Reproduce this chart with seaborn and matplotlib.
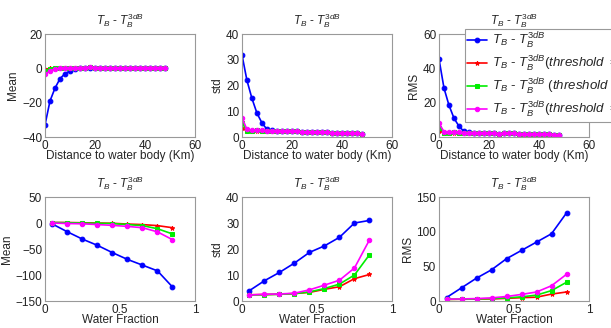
import numpy as np
import pandas as pd
import matplotlib
matplotlib.use("Agg")
import matplotlib.pyplot as plt
import seaborn as sns

# ---------------- data ----------------
dist = [0, 2, 4, 6, 8, 10, 12, 14, 16, 18, 20, 22, 24, 26, 28, 30, 32, 34, 36, 38, 40, 42, 44, 46, 48]
frac = [0.05, 0.15, 0.25, 0.35, 0.45, 0.55, 0.65, 0.75, 0.85]

series_names = ["all", "t099", "t095", "t08"]
labels = [r"$T_B$ - $T_B^{3dB}$",
          r"$T_B$ - $T_B^{3dB}$$(threshold\ =\ 0.99)$",
          r"$T_B$ - $T_B^{3dB}$ $(threshold\ =\ 0.95)$",
          r"$T_B$ - $T_B^{3dB}$$(threshold\ =\ 0.8)$"]

# distance panels
mean_d_all = [-33, -19, -11.5, -6, -3, -1.5, -0.5, 0, 0.3, 0.5, 0.5, 0.5, 0.4, 0.3, 0.3, 0.3, 0.4, 0.4, 0.5, 0.5, 0.5, 0.5, 0.5, 0.5, 0.5]
mean_d_099 = [-0.5, 0, 0.2, 0.3, 0.4, 0.4, 0.5, 0.5, 0.5, 0.6, 0.5, 0.5, 0.4, 0.3, 0.3, 0.3, 0.4, 0.4, 0.5, 0.5, 0.5, 0.5, 0.5, 0.5, 0.5]
mean_d_095 = [-1.5, -0.5, 0, 0.3, 0.4, 0.4, 0.5, 0.5, 0.5, 0.6, 0.5, 0.5, 0.4, 0.3, 0.3, 0.3, 0.4, 0.4, 0.5, 0.5, 0.5, 0.5, 0.5, 0.5, 0.5]
mean_d_08 = [-3.5, -1.5, -0.5, 0, 0.2, 0.3, 0.4, 0.5, 0.5, 0.6, 0.5, 0.5, 0.4, 0.3, 0.3, 0.3, 0.4, 0.4, 0.5, 0.5, 0.5, 0.5, 0.5, 0.5, 0.5]

std_d_all = [32, 22, 15, 9.3, 5.5, 3, 2.6, 2.5, 2.4, 2.4, 2.3, 2.3, 1.9, 2.0, 2.0, 2.0, 1.8, 1.8, 1.7, 1.6, 1.5, 1.5, 1.5, 1.4, 1.2]
std_d_099 = [3.5, 2.4, 2.4, 2.5, 2.5, 2.5, 2.5, 2.5, 2.4, 2.4, 2.3, 2.3, 1.9, 2.0, 2.0, 2.0, 1.8, 1.8, 1.7, 1.6, 1.5, 1.5, 1.5, 1.4, 1.2]
std_d_095 = [5.5, 2.5, 2.5, 2.6, 2.5, 2.5, 2.5, 2.5, 2.4, 2.4, 2.3, 2.3, 1.9, 2.0, 2.0, 2.0, 1.8, 1.8, 1.7, 1.6, 1.5, 1.5, 1.5, 1.4, 1.2]
std_d_08 = [7.5, 3.0, 2.7, 2.7, 2.6, 2.5, 2.5, 2.5, 2.4, 2.4, 2.3, 2.3, 1.9, 2.0, 2.0, 2.0, 1.8, 1.8, 1.7, 1.6, 1.5, 1.5, 1.5, 1.4, 1.2]

rms_d_all = [45.5, 28.5, 18.5, 11, 6.3, 3.3, 2.7, 2.6, 2.5, 2.5, 2.4, 2.4, 2.0, 2.1, 2.1, 2.1, 1.9, 1.9, 1.8, 1.7, 1.6, 1.6, 1.6, 1.5, 1.3]
rms_d_099 = [3.5, 2.5, 2.5, 2.6, 2.6, 2.6, 2.6, 2.6, 2.5, 2.5, 2.4, 2.4, 2.0, 2.1, 2.1, 2.1, 1.9, 1.9, 1.8, 1.7, 1.6, 1.6, 1.6, 1.5, 1.3]
rms_d_095 = [5.5, 2.6, 2.6, 2.7, 2.6, 2.6, 2.6, 2.6, 2.5, 2.5, 2.4, 2.4, 2.0, 2.1, 2.1, 2.1, 1.9, 1.9, 1.8, 1.7, 1.6, 1.6, 1.6, 1.5, 1.3]
rms_d_08 = [8, 3.2, 2.8, 2.8, 2.7, 2.6, 2.6, 2.6, 2.5, 2.5, 2.4, 2.4, 2.0, 2.1, 2.1, 2.1, 1.9, 1.9, 1.8, 1.7, 1.6, 1.6, 1.6, 1.5, 1.3]

# water fraction panels
mean_f_all = [-2, -17, -31, -43, -57, -70, -81, -92, -123]
mean_f_099 = [1, 1, 0.5, 0, -0.5, -2, -3, -5, -9]
mean_f_095 = [1, 0.5, 0, -0.5, -1, -3, -5, -11, -21]
mean_f_08 = [0, -1, -1.5, -3, -4.5, -6.5, -9, -17, -32]

std_f_all = [4, 7.8, 11, 14.6, 18.7, 21.2, 24.5, 30, 31]
std_f_099 = [2.4, 2.5, 2.6, 2.9, 3.3, 4.5, 5.5, 8.6, 10.2]
std_f_095 = [2.3, 2.4, 2.6, 2.8, 3.5, 4.8, 6.5, 10, 17.8]
std_f_08 = [2.3, 2.6, 2.7, 3.0, 4.3, 6.1, 8, 12.7, 23.5]

rms_f_all = [5, 19, 33, 45, 61, 73, 85, 97, 127]
rms_f_099 = [2.3, 2.5, 2.8, 3, 3.8, 4.8, 5.5, 10, 13]
rms_f_095 = [2.3, 2.7, 3, 3.5, 4.5, 6, 8.5, 15, 27]
rms_f_08 = [2.5, 3, 3.5, 4.5, 6.5, 9.5, 13, 22, 38.5]

# ---------------- style ----------------
sns.set_theme(style="white")
plt.rcParams['font.family'] = ['Liberation Sans', 'DejaVu Sans']
plt.rcParams['mathtext.fontset'] = 'custom'
plt.rcParams['mathtext.rm'] = 'Liberation Sans'
plt.rcParams['mathtext.it'] = 'Liberation Sans:italic'
plt.rcParams['mathtext.bf'] = 'Liberation Sans:bold'

colors = ["#0000ff", "#ff0000", "#00ee00", "#ff00ff"]
markers = ["o", "*", "s", "o"]
msizes = [3.4, 3.2, 2.8, 3.2]

fig = plt.figure(figsize=(6.11, 3.28), dpi=100)

lefts = [0.0736, 0.396, 0.7185]
w = 0.2455
top_b, top_h = 0.582, 0.314
bot_b, bot_h = 0.0823, 0.317

panels = [
    (0, 0, dist, [mean_d_all, mean_d_099, mean_d_095, mean_d_08], "Mean", "Distance to water body (Km)", (0, 60), [0, 20, 40, 60], (-40, 20), [-40, -20, 0, 20]),
    (1, 0, dist, [std_d_all, std_d_099, std_d_095, std_d_08], "std", "Distance to water body (Km)", (0, 60), [0, 20, 40, 60], (0, 40), [0, 10, 20, 30, 40]),
    (2, 0, dist, [rms_d_all, rms_d_099, rms_d_095, rms_d_08], "RMS", "Distance to water body (Km)", (0, 60), [0, 20, 40, 60], (0, 60), [0, 20, 40, 60]),
    (0, 1, frac, [mean_f_all, mean_f_099, mean_f_095, mean_f_08], "Mean", "Water Fraction", (0, 1), [0, 0.5, 1], (-150, 50), [-150, -100, -50, 0, 50]),
    (1, 1, frac, [std_f_all, std_f_099, std_f_095, std_f_08], "std", "Water Fraction", (0, 1), [0, 0.5, 1], (0, 40), [0, 10, 20, 30, 40]),
    (2, 1, frac, [rms_f_all, rms_f_099, rms_f_095, rms_f_08], "RMS", "Water Fraction", (0, 1), [0, 0.5, 1], (0, 150), [0, 50, 100, 150]),
]

handles = None
for col, row, xs, ys, ylab, xlab, xlim, xt, ylim, yt in panels:
    b, h = (top_b, top_h) if row == 0 else (bot_b, bot_h)
    ax = fig.add_axes([lefts[col], b, w, h])
    frames = []
    for name, yv in zip(series_names, ys):
        frames.append(pd.DataFrame({"x": xs, "y": yv, "s": name}))
    df = pd.concat(frames, ignore_index=True)
    for i, name in enumerate(series_names):
        sub = df[df["s"] == name]
        sns.lineplot(data=sub, x="x", y="y", ax=ax, color=colors[i], marker=markers[i],
                     markersize=msizes[i], markeredgecolor=colors[i], linewidth=1.2,
                     label=labels[i], legend=False)
    ax.set_xlim(*xlim)
    ax.set_ylim(*ylim)
    ax.set_xticks(xt)
    ax.set_xticklabels([("%g" % v) for v in xt])
    ax.set_yticks(yt)
    ax.set_xlabel(xlab, fontsize=8.5, labelpad=-1)
    ax.set_ylabel(ylab, fontsize=8.5, labelpad=2)
    ax.set_title(r"$T_B$ - $T_B^{3dB}$", fontsize=8.5, pad=7)
    ax.tick_params(axis="both", labelsize=8.5, direction="in", length=2, pad=2, colors="#222222")
    for sp in ax.spines.values():
        sp.set_color("#999999")
        sp.set_linewidth(0.8)
    if handles is None:
        handles = ax.get_lines()

leg = fig.legend(handles, labels, loc="upper left", bbox_to_anchor=(0.761, 0.912),
                 fontsize=9.5, frameon=True, fancybox=False, handlelength=1.5,
                 borderpad=0.15, labelspacing=0.22, handletextpad=0.4, borderaxespad=0)
leg.get_frame().set_edgecolor("#999999")
leg.get_frame().set_linewidth(0.8)
leg.get_frame().set_alpha(1)

fig.savefig("out.png", dpi=100)
